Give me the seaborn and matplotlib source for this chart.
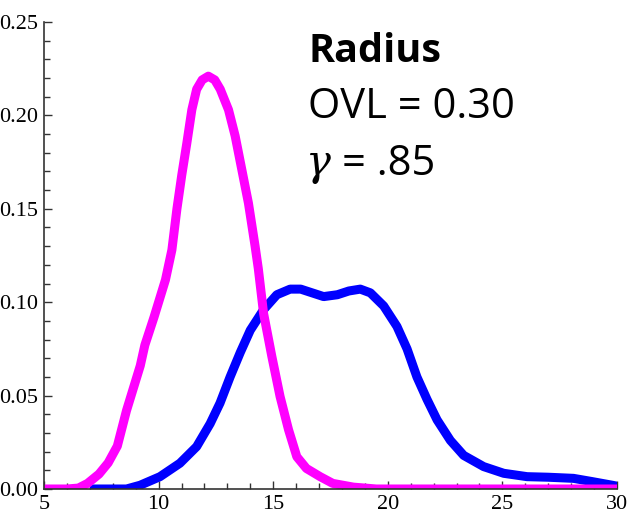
import matplotlib
matplotlib.use("Agg")
import matplotlib.pyplot as plt
import seaborn as sns
import pandas as pd
from matplotlib.ticker import MultipleLocator, FormatStrFormatter

# ---- data ----
magenta_x = [5, 6.0, 6.5, 6.9, 7.4, 7.8, 8.2, 8.6, 9.0, 9.2, 9.4, 9.8, 10.3, 10.58,
             10.8, 11.01, 11.23, 11.45, 11.66, 11.9, 12.17, 12.45, 12.69, 13.05,
             13.34, 13.63, 13.92, 14.21, 14.35, 14.58, 14.94, 15.3, 15.67, 16.03,
             16.45, 17.05, 17.6, 18.5, 19.5, 30]
magenta_y = [0, 0, 0.0005, 0.003, 0.008, 0.014, 0.023, 0.042, 0.058, 0.066, 0.077,
             0.092, 0.112, 0.128, 0.150, 0.168, 0.185, 0.203, 0.214, 0.219, 0.221,
             0.219, 0.214, 0.203, 0.189, 0.171, 0.153, 0.130, 0.118, 0.094, 0.071,
             0.0495, 0.0317, 0.0173, 0.011, 0.0066, 0.003, 0.001, 0, 0]

blue_x = [7.0, 8.6, 9.19, 10.06, 10.93, 11.66, 12.25, 12.68, 13.12, 13.56, 14.0,
          14.58, 15.16, 15.74, 16.2, 16.7, 17.2, 17.8, 18.3, 18.8, 19.24, 19.82,
          20.4, 20.84, 21.27, 21.71, 22.15, 22.73, 23.31, 24.18, 25.06, 26.08,
          27.0, 28.1, 28.9, 29.8, 30]
blue_y = [0, 0, 0.002, 0.0066, 0.0138, 0.0227, 0.035, 0.046, 0.060, 0.073, 0.085,
          0.096, 0.104, 0.107, 0.107, 0.105, 0.103, 0.104, 0.106, 0.107, 0.105,
          0.098, 0.087, 0.075, 0.060, 0.048, 0.037, 0.026, 0.018, 0.012, 0.0084,
          0.0066, 0.0063, 0.0057, 0.004, 0.002, 0.0015]

x_ticks = [5, 10, 15, 20, 25, 30]
y_ticks = [0.00, 0.05, 0.10, 0.15, 0.20, 0.25]

title_text = "Radius"
ovl_text = "OVL = 0.30"
gamma_sym = "γ"
gamma_text = "= .85"

sns.set_style("ticks")
plt.rcParams['font.family'] = ['Liberation Serif', 'DejaVu Serif']
plt.rcParams['text.color'] = 'black'
plt.rcParams['xtick.labelcolor'] = 'black'
plt.rcParams['ytick.labelcolor'] = 'black'

fig = plt.figure(figsize=(6.31, 5.21), dpi=100)
ax = fig.add_axes([44 / 631, 1 - 489 / 521, (617 - 44) / 631, (489 - 22) / 521])

df_b = pd.DataFrame({"x": blue_x, "y": blue_y})
df_m = pd.DataFrame({"x": magenta_x, "y": magenta_y})
sns.lineplot(data=df_b, x="x", y="y", ax=ax, color="#0000FF", linewidth=6.5,
             sort=False, estimator=None)
sns.lineplot(data=df_m, x="x", y="y", ax=ax, color="#FF00FF", linewidth=6.5,
             sort=False, estimator=None)
for ln in ax.get_lines():
    ln.set_solid_joinstyle("round")
    ln.set_solid_capstyle("butt")

ax.set_xlim(5, 30)
ax.set_ylim(0, 0.25)
ax.set_xticks(x_ticks)
ax.set_yticks(y_ticks)
ax.xaxis.set_minor_locator(MultipleLocator(1))
ax.yaxis.set_minor_locator(MultipleLocator(0.01))
ax.yaxis.set_major_formatter(FormatStrFormatter("%.2f"))
ax.set_xlabel("")
ax.set_ylabel("")
for s in ["top", "right"]:
    ax.spines[s].set_visible(False)
for s in ["left", "bottom"]:
    ax.spines[s].set_color("#333333")
    ax.spines[s].set_linewidth(1.2)
ax.tick_params(which="major", direction="in", length=6, width=1, color="#333333",
               labelsize=16, pad=4, labelcolor="black")
ax.tick_params(which="minor", direction="in", length=4, width=1, color="#333333")
ax.tick_params(axis="y", which="major", pad=4)

tfont = ['Open Sans', 'DejaVu Sans']
fig.text(308 / 631, 1 - 62 / 521, title_text, fontsize=28.5, fontweight="bold",
         family=tfont, va="baseline", ha="left", color="black")
fig.text(308 / 631, 1 - 118 / 521, ovl_text, fontsize=30,
         family=tfont, va="baseline", ha="left", color="black")
fig.text(306 / 631, 1 - 175 / 521, gamma_sym, fontsize=30, style="italic",
         family=['DejaVu Serif'], va="baseline", ha="left", color="black")
fig.text(342 / 631, 1 - 175 / 521, gamma_text, fontsize=30,
         family=tfont, va="baseline", ha="left", color="black")

fig.savefig("out.png", dpi=100)
